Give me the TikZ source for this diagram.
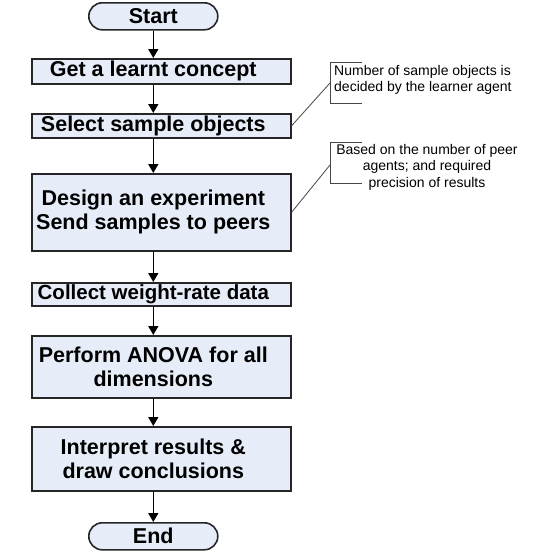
\documentclass[tikz,border=0pt]{standalone}
\usepackage{fontspec}
\setmainfont{Liberation Sans}
\usetikzlibrary{arrows.meta}
\definecolor{boxfill}{RGB}{231,237,248}
\definecolor{calloutline}{RGB}{70,70,70}
\begin{document}
\begin{tikzpicture}[x=1pt,y=-1pt,
  boxfont/.style={font=\fontsize{21.5}{24}\selectfont\bfseries},
  proc/.style={draw=black!85,line width=1.6pt,fill=boxfill,rectangle,inner sep=0pt,
     minimum width=259pt,anchor=north west},
  txt/.style={boxfont,inner sep=0pt,align=center,xshift=-8pt},
  term/.style={draw=black!85,line width=1.6pt,fill=boxfill,rectangle,rounded corners=13.5pt,inner sep=0pt,
     minimum width=129pt,minimum height=27pt,boxfont,anchor=north west},
  flow/.style={line width=1.6pt,-{Triangle[width=10pt,length=9pt]}},
  note/.style={font=\fontsize{14}{16.5}\selectfont,inner sep=0pt,align=center},
  bracket/.style={draw=calloutline,line width=0.8pt},
]
\useasboundingbox (0,0) rectangle (533,555);
\node[term] (start) at (88,2) {Start};
\node[proc,minimum height=25pt,label={[txt]center:Get a learnt concept}] (get) at (31,58) {};
\node[proc,minimum height=24pt,label={[txt]center:Select sample objects}] (select) at (31,113) {};
\node[proc,minimum height=77pt,label={[txt]center:Design an experiment\\Send samples to peers}] (design) at (31,173) {};
\node[proc,minimum height=23pt,label={[txt,font=\fontsize{20.5}{24}\selectfont\bfseries]center:Collect weight-rate data}] (collect) at (31,282) {};
\node[proc,minimum height=62pt,label={[txt]center:Perform ANOVA for all\\dimensions}] (anova) at (31,335) {};
\node[proc,minimum height=64pt,label={[txt]center:Interpret results \&\\draw conclusions}] (interp) at (31,426) {};
\node[term] (stop) at (88,522) {End};

\draw[flow] (start.south) -- (start.south |- get.north);
\draw[flow] (start.south |- get.south) -- (start.south |- select.north);
\draw[flow] (start.south |- select.south) -- (start.south |- design.north);
\draw[flow] (start.south |- design.south) -- (start.south |- collect.north);
\draw[flow] (start.south |- collect.south) -- (start.south |- anova.north);
\draw[flow] (start.south |- anova.south) -- (start.south |- interp.north);
\draw[flow] (start.south |- interp.south) -- (stop.north);

% callout 1
\node[note,anchor=north west,align=left] (note1) at (334,65) {Number of sample objects is\\decided by the learner agent};
\coordinate (b1t) at (362,62);
\coordinate (b1b) at (362,103);
\draw[bracket] (b1t) -- (330,62) -- (330,103) -- (b1b);
\coordinate (b1m) at (330,83);
\draw[bracket] (b1m) -- (select.east);

% callout 2
\node[note,anchor=north] (note2) at (427,144) {Based on the number of peer\\agents; and required\\precision of results};
\coordinate (b2t) at (362,142);
\coordinate (b2b) at (362,183);
\draw[bracket] (b2t) -- (330,142) -- (330,183) -- (b2b);
\coordinate (b2m) at (330,165);
\draw[bracket] (b2m) -- (design.east);
\end{tikzpicture}
\end{document}
